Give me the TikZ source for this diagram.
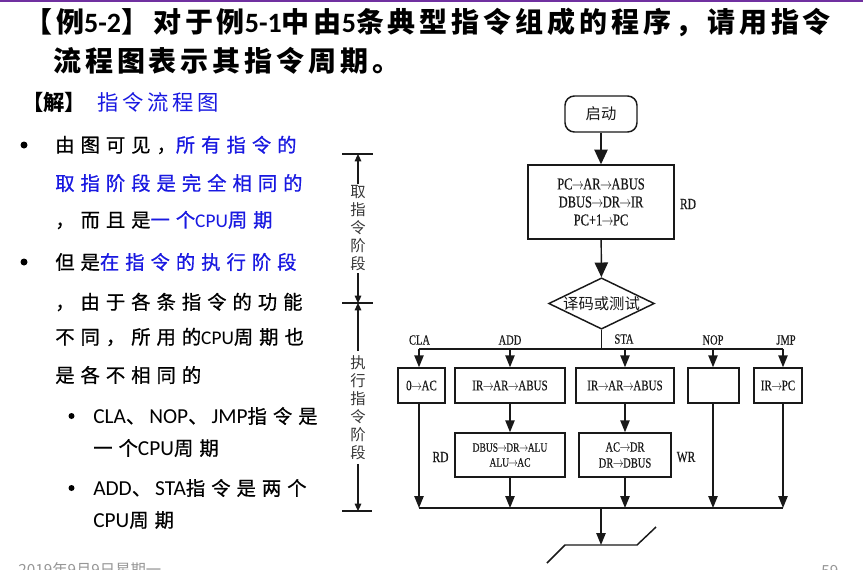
\documentclass[tikz,border=0pt]{standalone}
\usepackage{fontspec}
\usepackage{graphicx}
\usetikzlibrary{arrows.meta,shapes.geometric}
\setmainfont{Liberation Serif}[FakeBold=0.5]
\newfontfamily\cjk{Noto Sans CJK SC}
\newfontfamily\kai[LetterSpace=31,FakeBold=0.7]{Noto Sans CJK SC}
\newfontfamily\titlef[LetterSpace=14]{Noto Sans CJK SC}
\newfontfamily\carl{Carlito}
\newcommand{\cnd}[1]{\scalebox{0.75}[1]{#1}}
\newcommand{\ra}{\kern-0.05em$\rightarrow$\kern-0.05em}
\newcommand{\lat}[1]{{\carl\fontsize{14.5pt}{15pt}\selectfont #1}}
\newcommand{\slat}[1]{{\carl\fontsize{16pt}{16pt}\selectfont #1}}
\newcommand{\dun}{、\hspace{3pt}}
\definecolor{tblue}{RGB}{25,25,225}
\definecolor{fgray}{RGB}{150,150,150}
\definecolor{ppl}{RGB}{112,48,160}
\definecolor{ink}{RGB}{25,25,25}
\definecolor{dgray}{RGB}{55,55,55}
\begin{document}
\begin{tikzpicture}[x=0.75pt,y=-0.75pt,
  lt/.style={anchor=west, inner sep=0pt},
  body/.style={lt, font=\kai\fontsize{14.5pt}{15pt}\selectfont},
  ttl/.style={lt, font=\titlef\bfseries\fontsize{21pt}{25pt}\selectfont},
  box/.style={draw=ink, line width=1.1pt, inner sep=0pt, text=ink},
  line/.style={draw=ink, line width=1.1pt},
  arr/.style={line, -{Triangle[length=9pt,width=7pt]}},
  barr/.style={line, -{Triangle[length=11pt,width=10pt]}},
  dline/.style={draw=ink, line width=0.8pt},
  darr/.style={dline, -{Triangle[length=5.5pt,width=5pt]}},
  dtext/.style={align=center, inner sep=1.5pt, text=dgray, font=\cjk\fontsize{11.5pt}{13.5pt}\selectfont},
  lab/.style={inner sep=0pt, text=ink, font=\fontsize{10.5pt}{12pt}\selectfont},
  rlab/.style={inner sep=0pt, text=ink, font=\fontsize{11.5pt}{12pt}\selectfont}
]
\useasboundingbox (0,0) rectangle (863,569);
\fill[white] (0,0) rectangle (863,569);
\fill[ppl] (0,0) rectangle (863,2);

% title
\node[ttl] (t1) at (24,22) {【例{\carl 5-2}】\hspace{3pt}对于例{\carl 5-1}中由{\carl 5}条典型指令组成的程序，请用指令};
\node[ttl] (t2) at (53,61) {流程图表示其指令周期。};

% solution heading
\node[lt, font=\cjk\bfseries\fontsize{16pt}{18pt}\selectfont] (sol) at (22,102) {【解】};
\node[lt, text=tblue, font=\cjk\fontsize{16pt}{18pt}\selectfont] (solt) at (97,102) {\addfontfeature{LetterSpace=18}指令流程图};

% bullets
\fill (24,145) circle (3.5);
\fill (24,262) circle (3.5);
\fill (71.5,416) circle (3);
\fill (71.5,488) circle (3);

\node[body] (b1) at (55,145) {由图可见，\textcolor{tblue}{所有指令的}};
\node[body, text=tblue] (b2) at (55,183) {取指阶段是完全相同的};
\node[body] (b3) at (55,220) {，而且是\textcolor{tblue}{一个\lat{CPU}周期}};
\node[body] (b4) at (55,262) {但是\textcolor{tblue}{在指令的执行阶段}};
\node[body] (b5) at (55,302) {，由于各条指令的功能};
\node[body] (b6) at (55,337) {不同，所用的\lat{CPU}周期也};
\node[body] (b7) at (55,375) {是各不相同的};

\node[body] (s1) at (93,416) {\slat{CLA}\dun\slat{NOP}\dun\slat{JMP}指令是};
\node[body] (s2) at (93,448) {一个\slat{CPU}周期};
\node[body] (s3) at (93,488) {\slat{ADD}\dun\slat{STA}指令是两个};
\node[body] (s4) at (93,520) {\slat{CPU}周期};

% footer
\node[lt, text=fgray, font=\cjk\fontsize{11.5pt}{12pt}\selectfont] (date) at (18,570) {2019年9月9日星期一};
\node[lt, text=fgray, font=\cjk\fontsize{11.5pt}{12pt}\selectfont] (page) at (821,571) {59};

% dimension marks
\coordinate (ta) at (358,154); \coordinate (tal) at (342,154); \coordinate (tar) at (373,154);
\coordinate (tb) at (358,303); \coordinate (tbl) at (342,303); \coordinate (tbr) at (373,303);
\coordinate (tc) at (358,511); \coordinate (tcl) at (342,511); \coordinate (tcr) at (372,511);
\draw[dline] (tal) -- (tar);
\draw[dline] (tbl) -- (tbr);
\draw[dline] (tcl) -- (tcr);
\node[dtext] (dimA) at (358,228.5) {取\\指\\令\\阶\\段};
\node[dtext, inner sep=3pt] (dimB) at (358,407.5) {执\\行\\指\\令\\阶\\段};
\draw[darr] (dimA) -- (ta);
\draw[darr] (dimA) -- (tb);
\draw[darr] (dimB) -- (tb);
\draw[darr] (dimB) -- (tc);

% flowchart
\node[box, rounded corners=7pt, minimum width=54pt, minimum height=27pt, font=\cjk\fontsize{11.5pt}{12pt}\selectfont] (start) at (601,114) {启动};
\node[box, minimum width=109.5pt, minimum height=55.5pt, align=center, font=\fontsize{12.5pt}{13.5pt}\selectfont] (fetch) at (601,202) {\cnd{PC\ra AR\ra ABUS}\\\cnd{DBUS\ra DR\ra IR}\\\cnd{PC+1\ra PC}};
\node[rlab] (rd1) at (688,204) {\cnd{RD}};
\node[box, shape=diamond, aspect=2.06, font=\cjk\fontsize{11.5pt}{12pt}\selectfont] (dec) at (601.5,303.5) {译码或测试};

\node[box, minimum width=35.25pt, minimum height=26.25pt, font=\fontsize{11pt}{12pt}\selectfont] (cla) at (421.5,385.5) {\cnd{0\ra AC}};
\node[box, minimum width=82.5pt, minimum height=26.25pt, font=\fontsize{11pt}{12pt}\selectfont] (add1) at (510,385.5) {\cnd{IR\ra AR\ra ABUS}};
\node[box, minimum width=73.5pt, minimum height=26.25pt, font=\fontsize{11pt}{12pt}\selectfont] (sta1) at (625,385.5) {\cnd{IR\ra AR\ra ABUS}};
\node[box, minimum width=38.25pt, minimum height=26.25pt] (nop) at (713.5,385.5) {};
\node[box, minimum width=36pt, minimum height=26.25pt, font=\fontsize{11pt}{12pt}\selectfont] (jmp) at (778,385.5) {\cnd{IR\ra PC}};

\node[box, minimum width=82.5pt, minimum height=33pt, align=center, font=\fontsize{9.5pt}{11.2pt}\selectfont] (add2) at (510,455) {\cnd{DBUS\ra DR\ra ALU}\\\cnd{ALU\ra AC}};
\node[box, minimum width=69pt, minimum height=33pt, align=center, font=\fontsize{10.5pt}{12pt}\selectfont] (sta2) at (625,455) {\cnd{AC\ra DR}\\\cnd{DR\ra DBUS}};
\node[rlab] (rd2) at (440.5,457) {\cnd{RD}};
\node[rlab] (wr) at (686,457) {\cnd{WR}};

\node[lab] (lcla) at (419.5,340) {\cnd{CLA}};
\node[lab] (ladd) at (510,340) {\cnd{ADD}};
\node[lab] (lsta) at (624,339) {\cnd{STA}};
\node[lab] (lnop) at (713,340) {\cnd{NOP}};
\node[lab] (ljmp) at (786,340) {\cnd{JMP}};

\coordinate (tcla) at (419,349); \coordinate (tadd) at (510,349); \coordinate (tsta) at (625,349);
\coordinate (tnop) at (713,349); \coordinate (tjmp) at (783,349); \coordinate (tmid) at (601.5,349);
\coordinate (bcla) at (419,508); \coordinate (badd) at (510,508); \coordinate (bsta) at (625,508);
\coordinate (bnop) at (713,508); \coordinate (bjmp) at (783,508); \coordinate (bmid) at (601,508);
\coordinate (endp) at (601,545);
\coordinate (e1) at (547,563); \coordinate (e2) at (565,545); \coordinate (e3) at (637,545); \coordinate (e4) at (656,527);

\draw[barr] (start) -- (fetch);
\draw[barr] (fetch) -- (dec);
\draw[line] (dec.south) -- (tmid);
\draw[line] (tcla) -- (tjmp);
\draw[arr] (tcla) -- (tcla |- cla.north);
\draw[arr] (tadd) -- (tadd |- add1.north);
\draw[arr] (tsta) -- (tsta |- sta1.north);
\draw[arr] (tnop) -- (tnop |- nop.north);
\draw[arr] (tjmp) -- (tjmp |- jmp.north);
\draw[arr] (add1) -- (add2);
\draw[arr] (sta1) -- (sta2);
\draw[arr] (bcla |- cla.south) -- (bcla);
\draw[arr] (add2) -- (badd);
\draw[arr] (sta2) -- (bsta);
\draw[arr] (bnop |- nop.south) -- (bnop);
\draw[arr] (bjmp |- jmp.south) -- (bjmp);
\draw[line] (bcla) -- (bjmp);
\draw[arr] (bmid) -- (endp);
\draw[line] (e1) -- (e2) -- (e3) -- (e4);
\end{tikzpicture}
\end{document}
